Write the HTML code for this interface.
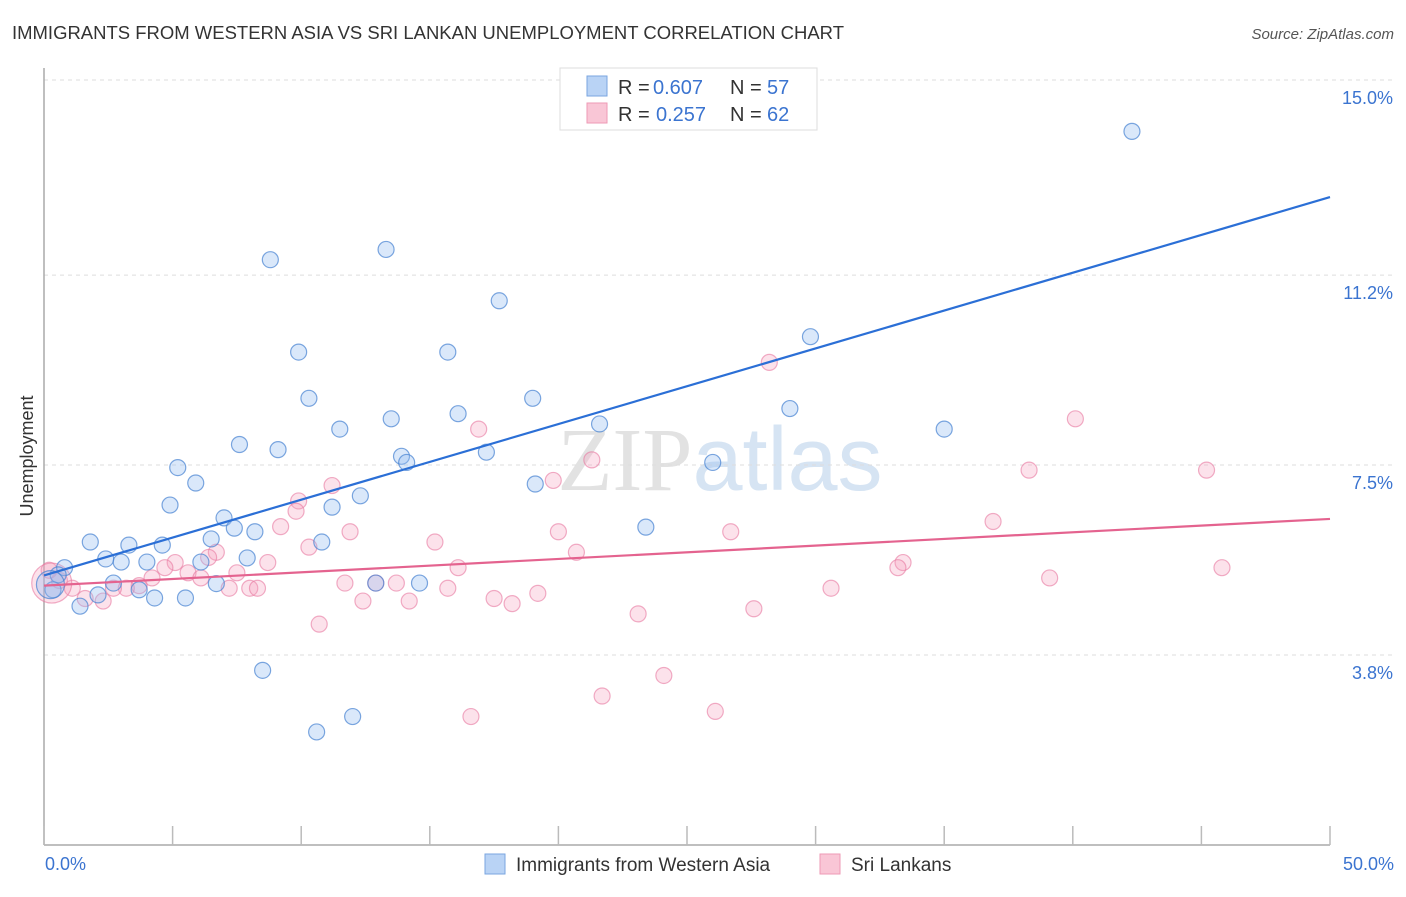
<!DOCTYPE html>
<html><head><meta charset="utf-8"><style>
body{margin:0;background:#fff;font-family:"Liberation Sans",sans-serif;}
svg text{font-family:"Liberation Sans",sans-serif;}
</style></head><body>
<svg id="chart" width="1406" height="892" xmlns="http://www.w3.org/2000/svg">
<text x="12" y="39" font-size="18" fill="#333" textLength="832" lengthAdjust="spacingAndGlyphs">IMMIGRANTS FROM WESTERN ASIA VS SRI LANKAN UNEMPLOYMENT CORRELATION CHART</text>
<text x="1394" y="39" font-size="15" fill="#555" text-anchor="end" font-style="italic">Source: ZipAtlas.com</text>
<text x="720" y="490" font-size="90" fill="#e8e8e8" text-anchor="middle"><tspan font-family="Liberation Serif" fill="#e2e2e2">ZIP</tspan><tspan fill="#d6e4f3">atlas</tspan></text>
<g id="grid"></g>
<g id="axes"></g>
<g id="pts"></g>
<g id="lines"></g>
<text transform="translate(33,456) rotate(-90)" font-size="18" fill="#333" text-anchor="middle">Unemployment</text>
<g>
<rect x="560" y="68" width="257" height="62" fill="#fff" stroke="#ddd"/>
<rect x="587" y="76" width="20" height="20" fill="#b9d3f5" stroke="#7aa6e0"/>
<rect x="587" y="103" width="20" height="20" fill="#f9c6d6" stroke="#ee9ab5"/>
<text x="618" y="94" font-size="20" fill="#333">R =</text>
<text x="653" y="94" font-size="20" fill="#3b74d0">0.607</text>
<text x="730" y="94" font-size="20" fill="#333">N =</text>
<text x="767" y="94" font-size="20" fill="#3b74d0">57</text>
<text x="618" y="121" font-size="20" fill="#333">R =</text>
<text x="656" y="121" font-size="20" fill="#3b74d0">0.257</text>
<text x="730" y="121" font-size="20" fill="#333">N =</text>
<text x="767" y="121" font-size="20" fill="#3b74d0">62</text>
</g>
<g>
<rect x="485" y="854" width="20" height="20" fill="#b9d3f5" stroke="#7aa6e0"/>
<text x="516" y="871" font-size="19" fill="#333">Immigrants from Western Asia</text>
<rect x="820" y="854" width="20" height="20" fill="#f9c6d6" stroke="#ee9ab5"/>
<text x="851" y="871" font-size="19" fill="#333">Sri Lankans</text>
</g>
</svg>
<script>
const yTicks=[3.8,7.5,11.2,15.0];
const yTickLabels=["3.8%","7.5%","11.2%","15.0%"];
const xTicks=[0,5,10,15,20,25,30,35,40,45,50];
const blueX=[42.3,8.8,13.3,17.7,9.9,15.7,29.8,10.3,19,29,16.1,13.5,11.5,21.6,35.0,7.6,9.1,13.9,14.1,17.2,26,5.2,5.9,19.1,12.3,4.9,11.2,7.0,7.4,8.2,23.4,6.5,1.8,3.3,4.6,10.8,2.4,3.0,4.0,6.1,7.9,0.8,0.55,2.7,3.7,12.9,14.6,6.7,0.35,0.25,2.1,4.3,5.5,1.4,8.5,12.0,10.6];
const blueY=[14.0,11.5,11.7,10.7,9.7,9.7,10.0,8.8,8.8,8.6,8.5,8.4,8.2,8.3,8.2,7.9,7.8,7.67,7.55,7.75,7.55,7.45,7.15,7.13,6.9,6.72,6.68,6.47,6.27,6.2,6.29,6.06,6.0,5.94,5.94,6.0,5.67,5.61,5.61,5.61,5.69,5.5,5.36,5.2,5.07,5.2,5.2,5.19,5.07,5.17,4.97,4.91,4.91,4.75,3.5,2.6,2.3];
const blueR=[8,8,8,8,8,8,8,8,8,8,8,8,8,8,8,8,8,8,8,8,8,8,8,8,8,8,8,8,8,8,8,8,8,8,8,8,8,8,8,8,8,8,8,8,8,8,8,8,8,14,8,8,8,8,8,8,8];
const pinkX=[28.2,40.1,16.9,21.3,38.3,45.2,11.2,19.8,9.9,9.8,36.9,9.2,11.9,20,26.7,15.2,10.3,6.7,20.7,6.4,8.7,33.4,33.2,45.8,5.1,4.7,16.1,5.6,7.5,4.2,6.1,11.7,13.7,12.9,39.1,0.6,0.2,1.1,3.7,3.2,2.7,8.0,8.3,7.2,15.7,30.6,19.2,17.5,18.2,14.2,12.4,1.6,2.3,27.6,23.1,10.7,24.1,21.7,26.1,16.6,0.3];
const pinkY=[9.5,8.4,8.2,7.6,7.4,7.4,7.1,7.2,6.8,6.6,6.4,6.3,6.2,6.2,6.2,6.0,5.9,5.8,5.8,5.7,5.6,5.6,5.5,5.5,5.6,5.5,5.5,5.4,5.4,5.3,5.3,5.2,5.2,5.2,5.3,5.25,5.45,5.1,5.15,5.1,5.1,5.1,5.1,5.1,5.1,5.1,5.0,4.9,4.8,4.85,4.85,4.9,4.85,4.7,4.6,4.4,3.4,3.0,2.7,2.6,5.2];
const pinkR=[8,8,8,8,8,8,8,8,8,8,8,8,8,8,8,8,8,8,8,8,8,8,8,8,8,8,8,8,8,8,8,8,8,8,8,8,8,8,8,8,8,8,8,8,8,8,8,8,8,8,8,8,8,8,8,8,8,8,8,8,20];
const blueTrend=[[0,5.35],[50,12.72]];
const pinkTrend=[[0,5.15],[50,6.45]];
const X=v=>44+v*25.72, Y=v=>850-v*51.33;
const NS="http://www.w3.org/2000/svg";
function mk(p,t,a){const e=document.createElementNS(NS,t);for(const k in a)e.setAttribute(k,a[k]);document.getElementById(p).appendChild(e);return e;}
yTicks.forEach((t,i)=>{
 const l=mk('grid','line',{x1:44,x2:1394,y1:Y(t),y2:Y(t),stroke:'#ddd','stroke-dasharray':'4,4'});
 
 
 const tx=mk('grid','text',{x:1393,y:Y(t)+24,'font-size':18,fill:'#3b74d0','text-anchor':'end'});
 tx.textContent=yTickLabels[i];
 
 
});
{const l=mk('axes','line',{x1:44,x2:44,y1:68,y2:845,stroke:'#aaa','stroke-width':1.5});}
{const l=mk('axes','line',{x1:44,x2:1330,y1:845,y2:845,stroke:'#aaa','stroke-width':1.5});}
xTicks.forEach(t=>{const l=mk('axes','line',{x1:X(t),x2:X(t),y1:826,y2:845,stroke:'#bbb','stroke-width':1.5});
 
 });
{const t=mk('axes','text',{x:45,y:870,'font-size':18,fill:'#3b74d0'});t.textContent='0.0%';}
{const t=mk('axes','text',{x:1394,y:870,'font-size':18,fill:'#3b74d0','text-anchor':'end'});t.textContent='50.0%';}
pinkX.forEach((v,i)=>{const c=mk('pts','circle',{cx:X(v),cy:Y(pinkY[i]),r:pinkR[i],fill:'rgba(245,160,190,0.3)',stroke:'rgba(232,120,160,0.6)','stroke-width':1.2});
 
 });
blueX.forEach((v,i)=>{const c=mk('pts','circle',{cx:X(v),cy:Y(blueY[i]),r:blueR[i],fill:'rgba(150,190,240,0.35)',stroke:'rgba(70,130,210,0.7)','stroke-width':1.2});
 
 });
{const l=mk('lines','line',{x1:X(blueTrend[0][0]),y1:Y(blueTrend[0][1]),x2:X(blueTrend[1][0]),y2:Y(blueTrend[1][1]),stroke:'#2b6fd6','stroke-width':2.2});}
{const l=mk('lines','line',{x1:X(pinkTrend[0][0]),y1:Y(pinkTrend[0][1]),x2:X(pinkTrend[1][0]),y2:Y(pinkTrend[1][1]),stroke:'#e4638f','stroke-width':2.2});}
</script>
</body></html>
